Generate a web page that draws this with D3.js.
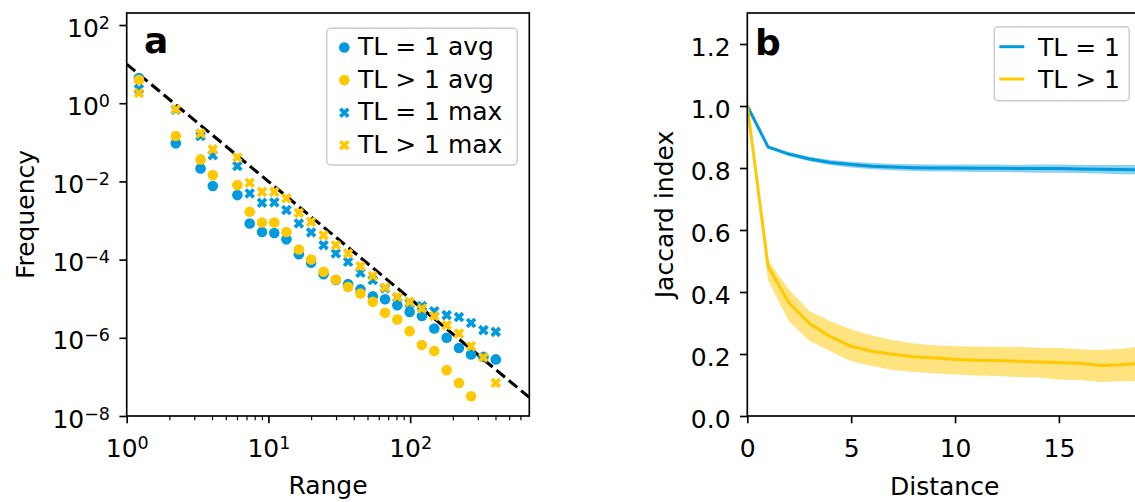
<!DOCTYPE html>
<html><head><meta charset="utf-8">
<script src="https://cdn.jsdelivr.net/npm/d3@7"></script>
<style>
body{margin:0;background:#fff}
svg{display:block}
text{font-family:"DejaVu Sans",sans-serif;fill:#000}
</style>
</head><body>
<svg id="c" width="1135" height="502"></svg>
<script>
// ---------- Panel a data ----------
const ranges = [1.22, 2.22, 3.32, 4.05, 6.04, 7.38, 9.01, 11.0, 13.4, 16.4, 20.0, 24.5, 29.9, 36.5, 44.6, 54.5, 66.5, 81.2, 99.2, 121, 148, 181, 221, 269, 329, 402];
const tl1Avg = [4.41, 0.094, 0.0215, 0.0076, 0.00447, 8.4e-4, 5.1e-4, 4.8e-4, 3.3e-4, 1.38e-4, 8.3e-5, 4.25e-5, 3.0e-5, 2.36e-5, 1.73e-5, 1.16e-5, 9.7e-6, 6.8e-6, 4.6e-6, 3.6e-6, 1.73e-6, 1.0e-6, 5.5e-7, 3.75e-7, 3.25e-7, 2.8e-7];
const tlNAvg = [3.92, 0.1445, 0.0366, 0.0145, 0.00805, 0.00167, 8.9e-4, 8.9e-4, 5.1e-4, 1.82e-4, 1.01e-4, 4.9e-5, 3.1e-5, 2.0e-5, 1.36e-5, 8.3e-6, 4.35e-6, 2.94e-6, 1.48e-6, 6.5e-7, 4.6e-7, 1.49e-7, 7.0e-8, 3.2e-8, null, null];
const tl1Max = [2.3, 0.68, 0.1445, 0.047, 0.0247, 0.00493, 0.00284, 0.0029, 0.00185, 8.4e-4, 4.95e-4, 2.34e-4, 1.44e-4, 8.8e-5, 4.6e-5, 3.0e-5, 1.83e-5, 1.08e-5, 7.6e-6, 6.5e-6, 4.8e-6, 3.8e-6, 3.4e-6, 2.4e-6, 1.57e-6, 1.42e-6];
const tlNMax = [1.82, 0.70, 0.169, 0.066, 0.041, 0.0092, 0.0054, 0.0054, 0.00368, 0.00157, 9.3e-4, 4.2e-4, 2.34e-4, 1.44e-4, 6.8e-5, 3.8e-5, 1.94e-5, 1.12e-5, 8.3e-6, 5.6e-6, 3.6e-6, 2.1e-6, 1.29e-6, 6.1e-7, 3.14e-7, 7.0e-8];
const refX = [1, 693];
const refY = [10, 3.0e-8];
const legendA = ["TL = 1 avg", "TL > 1 avg", "TL = 1 max", "TL > 1 max"];
const xTicksA = [1, 10, 100];
const xMinorA = [2,3,4,5,6,7,8,9,20,30,40,50,60,70,80,90,200,300,400,500,600];
const yTicksA = [1e2, 1, 1e-2, 1e-4, 1e-6, 1e-8];

// ---------- Panel b data ----------
const distance = [0,1,2,3,4,5,6,7,8,9,10,11,12,13,14,15,16,17,18,19];
const tl1Mean = [1.0, 0.868, 0.845, 0.829, 0.818, 0.811, 0.806, 0.803, 0.801, 0.800, 0.800, 0.799, 0.799, 0.798, 0.798, 0.798, 0.797, 0.796, 0.795, 0.794];
const tl1Low  = [1.0, 0.864, 0.839, 0.822, 0.810, 0.802, 0.796, 0.793, 0.790, 0.789, 0.789, 0.787, 0.787, 0.786, 0.785, 0.785, 0.784, 0.782, 0.780, 0.778];
const tl1High = [1.0, 0.872, 0.851, 0.836, 0.826, 0.820, 0.816, 0.813, 0.812, 0.811, 0.811, 0.811, 0.811, 0.810, 0.811, 0.811, 0.810, 0.810, 0.810, 0.810];
const tlNMean = [1.0, 0.483, 0.365, 0.298, 0.256, 0.225, 0.209, 0.199, 0.191, 0.187, 0.183, 0.180, 0.179, 0.177, 0.174, 0.172, 0.170, 0.163, 0.165, 0.170];
const tlNLow  = [1.0, 0.437, 0.306, 0.242, 0.209, 0.177, 0.161, 0.148, 0.142, 0.138, 0.134, 0.131, 0.129, 0.126, 0.124, 0.118, 0.116, 0.110, 0.112, 0.113];
const tlNHigh = [1.0, 0.502, 0.408, 0.338, 0.306, 0.279, 0.260, 0.245, 0.234, 0.228, 0.225, 0.224, 0.223, 0.223, 0.220, 0.219, 0.215, 0.213, 0.217, 0.225];
const legendB = ["TL = 1", "TL > 1"];
const xTicksB = [0, 5, 10, 15];
const yTicksB = [0, 0.2, 0.4, 0.6, 0.8, 1.0, 1.2];

// ---------- styling ----------
const BLUE = "#009ade", YELLOW = "#ffc800";
const FS = 25, SUP = 17.5, TICK = 7.3, LW = 1.67;

const svg = d3.select("#c");
svg.append("rect").attr("width",1135).attr("height",502).attr("fill","#fff");

function styleAxis(g){
  g.attr("font-family", null).attr("font-size", null);
  g.select(".domain").remove();
  g.selectAll(".tick line").attr("stroke","#000").attr("stroke-width",LW);
}
function supLabel(sel, v){
  const e = Math.round(Math.log10(v));
  sel.append("tspan").attr("font-size",FS).text("10");
  sel.append("tspan").attr("font-size",SUP).attr("dy",-8).text(String(e).replace("-","\u2212"));
}

// ================= Panel a =================
const A = {l:126.7, r:529.3, t:13, b:416};
const xA = d3.scaleLog().domain([1, 693]).range([A.l, A.r]);
const yA = d3.scaleLog().domain([1e-8, 203]).range([A.b, A.t]);

svg.append("clipPath").attr("id","clipA").append("rect")
  .attr("x",A.l).attr("y",A.t).attr("width",A.r-A.l).attr("height",A.b-A.t);

const gA = svg.append("g");
// x axis
const gxA = gA.append("g").attr("transform",`translate(0,${A.b})`)
  .call(d3.axisBottom(xA).tickValues(xTicksA).tickSize(TICK).tickFormat(()=>""));
styleAxis(gxA);
gxA.selectAll(".tick text").remove();
gxA.selectAll(".tick").append("text").attr("y",41).attr("text-anchor","middle")
  .each(function(d){ supLabel(d3.select(this), d); });
const gxAm = gA.append("g").attr("transform",`translate(0,${A.b})`)
  .call(d3.axisBottom(xA).tickValues(xMinorA).tickSize(4.2).tickFormat(()=>""));
styleAxis(gxAm);
gxAm.selectAll(".tick line").attr("stroke-width",1.2);
// y axis
const gyA = gA.append("g").attr("transform",`translate(${A.l},0)`)
  .call(d3.axisLeft(yA).tickValues(yTicksA).tickSize(TICK).tickFormat(()=>""));
styleAxis(gyA);
gyA.selectAll(".tick text").remove();
gyA.selectAll(".tick").append("text").attr("x",-16.7).attr("y",11).attr("text-anchor","end")
  .each(function(d){ supLabel(d3.select(this), d); });

// plot content
const pA = gA.append("g").attr("clip-path","url(#clipA)");
pA.append("line")
  .attr("x1",xA(refX[0])).attr("y1",yA(refY[0]))
  .attr("x2",xA(refX[1])).attr("y2",yA(refY[1]))
  .attr("stroke","#000").attr("stroke-width",3.1).attr("stroke-dasharray","11,5");

const R = 5.3;
const crossPath = d3.symbol(d3.symbolCross, 70)();
function dots(vals, color){
  pA.append("g").selectAll("circle")
    .data(ranges.map((x,i)=>[x, vals[i]]).filter(d=>d[1]!=null))
    .join("circle").attr("cx",d=>xA(d[0])).attr("cy",d=>yA(d[1])).attr("r",R).attr("fill",color);
}
function crosses(vals, color){
  pA.append("g").selectAll("path")
    .data(ranges.map((x,i)=>[x, vals[i]]).filter(d=>d[1]!=null))
    .join("path").attr("d",crossPath)
    .attr("transform",d=>`translate(${xA(d[0])},${yA(d[1])}) rotate(45)`).attr("fill",color);
}
dots(tl1Avg, BLUE);
dots(tlNAvg, YELLOW);
crosses(tl1Max, BLUE);
crosses(tlNMax, YELLOW);

// spines
gA.append("rect").attr("x",A.l).attr("y",A.t).attr("width",A.r-A.l).attr("height",A.b-A.t)
  .attr("fill","none").attr("stroke","#000").attr("stroke-width",LW);

// labels
gA.append("text").attr("x",(A.l+A.r)/2).attr("y",494).attr("text-anchor","middle")
  .attr("font-size",FS).text("Range");
gA.append("text").attr("transform",`translate(34,${(A.t+A.b)/2}) rotate(-90)`)
  .attr("text-anchor","middle").attr("font-size",FS).text("Frequency");
gA.append("text").attr("x",144).attr("y",53).attr("font-size",36).attr("font-weight","bold").text("a");

// legend a
const lgA = gA.append("g");
lgA.append("rect").attr("x",326.7).attr("y",28.3).attr("width",190.6).attr("height",136.7)
  .attr("rx",4).attr("fill","#fff").attr("fill-opacity",0.8).attr("stroke","#cccccc").attr("stroke-width",1.5);
const legColors = [BLUE, YELLOW, BLUE, YELLOW];
legendA.forEach((lab,i)=>{
  const by = 55 + i*32.6;
  const my = by - 7.5;
  if(i<2){
    lgA.append("circle").attr("cx",344.3).attr("cy",my).attr("r",R).attr("fill",legColors[i]);
  } else {
    lgA.append("path").attr("d",crossPath).attr("transform",`translate(344.3,${my}) rotate(45)`).attr("fill",legColors[i]);
  }
  lgA.append("text").attr("x",358).attr("y",by).attr("font-size",FS).text(lab);
});

// ================= Panel b =================
const B = {l:747.3, r:1142, t:13, b:416};
const xB = d3.scaleLinear().domain([0, 19]).range([B.l, B.r]);
const yB = d3.scaleLinear().domain([0, 1.3]).range([B.b, B.t]);

svg.append("clipPath").attr("id","clipB").append("rect")
  .attr("x",B.l).attr("y",B.t).attr("width",B.r-B.l).attr("height",B.b-B.t);
const gB = svg.append("g");

const gxB = gB.append("g").attr("transform",`translate(0,${B.b})`)
  .call(d3.axisBottom(xB).tickValues(xTicksB).tickSize(TICK).tickFormat(d3.format("d")));
styleAxis(gxB);
gxB.selectAll(".tick text").attr("y",41).attr("dy",0).attr("font-size",FS).attr("fill","#000");

const gyB = gB.append("g").attr("transform",`translate(${B.l},0)`)
  .call(d3.axisLeft(yB).tickValues(yTicksB).tickSize(TICK).tickFormat(d3.format(".1f")));
styleAxis(gyB);
gyB.selectAll(".tick text").attr("x",-16.7).attr("dy",0).attr("y",11).attr("font-size",FS).attr("fill","#000");

const pB = gB.append("g").attr("clip-path","url(#clipB)");
const area = (lo, hi) => d3.area().x((d,i)=>xB(distance[i])).y0((d,i)=>yB(lo[i])).y1((d,i)=>yB(hi[i]))(distance);
const line = (m) => d3.line().x((d,i)=>xB(distance[i])).y((d,i)=>yB(m[i]))(distance);
pB.append("path").attr("d",area(tl1Low, tl1High)).attr("fill",BLUE).attr("fill-opacity",0.45);
pB.append("path").attr("d",line(tl1Mean)).attr("fill","none").attr("stroke",BLUE).attr("stroke-width",3);
pB.append("path").attr("d",area(tlNLow, tlNHigh)).attr("fill",YELLOW).attr("fill-opacity",0.5);
pB.append("path").attr("d",line(tlNMean)).attr("fill","none").attr("stroke",YELLOW).attr("stroke-width",3);

gB.append("rect").attr("x",B.l).attr("y",B.t).attr("width",B.r-B.l).attr("height",B.b-B.t)
  .attr("fill","none").attr("stroke","#000").attr("stroke-width",LW);

gB.append("text").attr("x",(B.l+B.r)/2).attr("y",495).attr("text-anchor","middle")
  .attr("font-size",FS).text("Distance");
gB.append("text").attr("transform",`translate(673,${(B.t+B.b)/2}) rotate(-90)`)
  .attr("text-anchor","middle").attr("font-size",FS).text("Jaccard index");
gB.append("text").attr("x",755).attr("y",55).attr("font-size",36).attr("font-weight","bold").text("b");

const lgB = gB.append("g");
lgB.append("rect").attr("x",994.3).attr("y",26.7).attr("width",135).attr("height",74)
  .attr("rx",4).attr("fill","#fff").attr("fill-opacity",0.8).attr("stroke","#cccccc").attr("stroke-width",1.5);
[BLUE, YELLOW].forEach((c,i)=>{
  const by = 56 + i*32.3;
  lgB.append("line").attr("x1",999.3).attr("x2",1024.3).attr("y1",by-9.3).attr("y2",by-9.3)
    .attr("stroke",c).attr("stroke-width",3);
  lgB.append("text").attr("x",1038).attr("y",by).attr("font-size",FS).text(legendB[i]);
});
</script>
</body></html>
